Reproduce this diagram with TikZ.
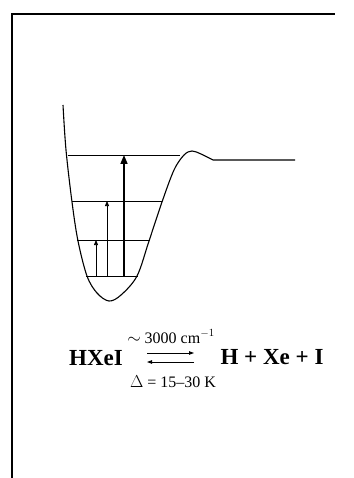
\documentclass[tikz,border=0pt]{standalone}
\usepackage{fontspec}
\setmainfont{Liberation Serif}
\usetikzlibrary{arrows.meta}

\begin{document}
\begin{tikzpicture}[
  x=1pt, y=-1pt,
  >=Triangle,
  frame/.style={line width=1.5pt},
  well/.style={line width=1.1pt, line join=round},
  level/.style={line width=0.8pt},
  pump/.style={->, line width=0.7pt, >={Triangle[length=5pt,width=4pt]}},
  bigpump/.style={->, line width=1.6pt, >={Triangle[length=9pt,width=7pt]}},
  species/.style={font=\fontsize{23}{26}\selectfont\bfseries, inner sep=0pt, anchor=base},
  note/.style={font=\fontsize{16}{18}\selectfont, inner sep=0pt, anchor=base},
  eqarrow/.style={line width=0.8pt, >={Triangle[length=5pt,width=3.5pt]}}
]
\useasboundingbox (0,0) rectangle (353,478);
% partial frame
\draw[frame] (12,478) -- (12,14) -- (335,14);
% potential well
\draw[well] plot[smooth, tension=0.55] coordinates {(63,105) (66,150) (72,202) (78,241) (87,276) (97,293) (109,301) (121,295) (137,276) (149,241) (162,202) (174,170) (184,155) (192,151) (201,154) (213,160)} -- (295,160);
% vibrational levels
\draw[level] (68,155) -- (180,155);
\draw[level] (72,201) -- (162,201);
\draw[level] (77,240) -- (150,240);
\draw[level] (86,276) -- (138,276);
% excitations
\coordinate (v0a) at (96,276);  \coordinate (v1) at (96,240);
\coordinate (v0b) at (107,276); \coordinate (v2) at (107,201);
\coordinate (v0c) at (124,276); \coordinate (v3) at (124,155);
\draw[pump] (v0a) -- (v1);
\draw[pump] (v0b) -- (v2);
\draw[bigpump] (v0c) -- (v3);
% reaction scheme
\node[species] (hxei) at (96,365) {HXeI};
\node[species] (prod) at (272,364) {H + Xe + I};
\node[note] (wn) at (171,343) {$\sim$ 3000 cm$^{-1}$};
\node[note] (dt) at (173,387) {$\Delta$ = 15--30 K};
\coordinate (fwa) at (147,353); \coordinate (fwb) at (194,353);
\coordinate (bka) at (147,362); \coordinate (bkb) at (194,362);
\draw[eqarrow,->] (fwa) -- (fwb);
\draw[eqarrow,->] (bkb) -- (bka);
\end{tikzpicture}
\end{document}
